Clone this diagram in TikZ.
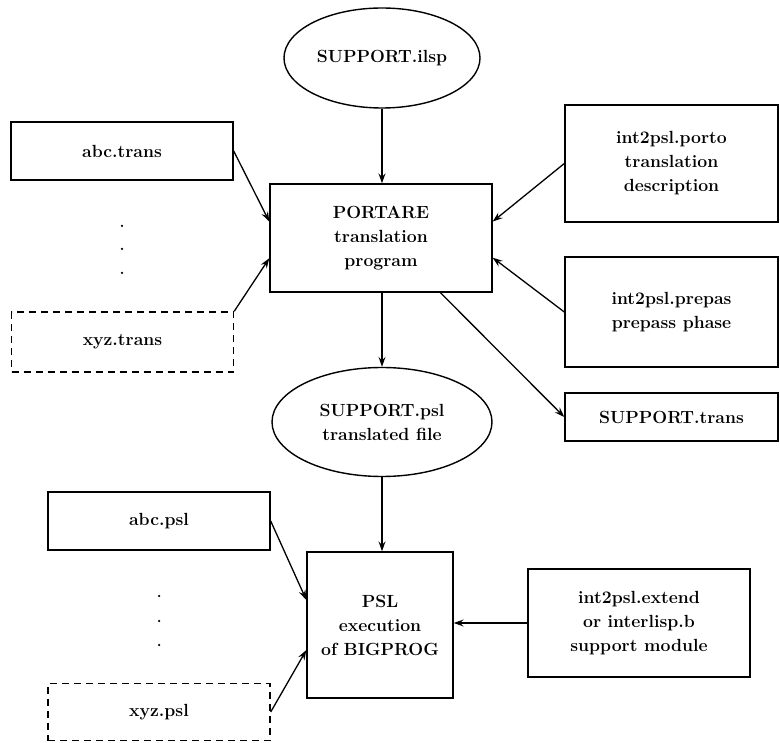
\documentclass[tikz,border=0pt]{standalone}
\usetikzlibrary{shapes.geometric,arrows.meta,calc}
\begin{document}
\begin{tikzpicture}[x=1pt,y=-1pt,
  every node/.style={font=\fontsize{17.6}{24}\selectfont\bfseries, align=center, inner sep=0pt, line width=1.4pt},
  box/.style={draw, rectangle, minimum width=#1},
  box/.default=222pt,
  dbox/.style={draw, rectangle, minimum width=222pt, dash pattern=on 7pt off 5pt},
  oval/.style={draw, ellipse},
  conn/.style={line width=1.3pt, -{Stealth[length=10pt,width=7pt,inset=3.5pt]}},
  dotn/.style={circle, fill, inner sep=0pt, minimum size=2.5pt}]
\useasboundingbox (0,0) rectangle (780,743);
% nodes
\node[oval, minimum width=196pt, minimum height=100pt] (ilsp) at (382,58) {SUPPORT.ilsp};
\node[box, minimum height=108pt] (portare) at (381,238) {PORTARE\\translation\\program};
\node[box, minimum height=58pt] (abct) at (122,151) {abc.trans};
\node[dbox, minimum height=60pt] (xyzt) at (122.5,342) {xyz.trans};
\node[dotn] (d1) at (122,226) {};
\node[dotn] (d2) at (122,249) {};
\node[dotn] (d3) at (122,273) {};
\node[box=213pt, minimum height=117pt] (porto) at (671.5,163.5) {int2psl.porto\\translation\\description};
\node[box=213pt, minimum height=110pt] (prepas) at (671.5,312) {int2psl.prepas\\prepass phase};
\node[box=213pt, minimum height=48pt] (strans) at (671.5,417) {SUPPORT.trans};
\node[oval, minimum width=220pt, minimum height=109pt] (spsl) at (382,422) {SUPPORT.psl\\translated file};
\node[box, minimum height=58pt] (abcp) at (159,521) {abc.psl};
\node[dbox, minimum height=57pt] (xyzp) at (159,712) {xyz.psl};
\node[dotn] (e1) at (159,596) {};
\node[dotn] (e2) at (159,621) {};
\node[dotn] (e3) at (159,645) {};
\node[box=146pt, minimum height=146pt] (psl) at (380,625) {PSL\\execution\\of BIGPROG};
\node[box, minimum height=108pt] (ext) at (639,623) {int2psl.extend\\or interlisp.b\\support module};
% connectors
\draw[conn] (ilsp.south) -- (ilsp.south |- portare.north);
\draw[conn] (portare.south -| spsl.north) -- (spsl.north);
\draw[conn] (spsl.south) -- (spsl.south |- psl.north);
\draw[conn] (abct.east) -- ($(portare.north west)!0.35!(portare.south west)$);
\draw[conn] (xyzt.north east) -- ($(portare.north west)!0.685!(portare.south west)$);
\draw[conn] (porto.west) -- ($(portare.north east)!0.35!(portare.south east)$);
\draw[conn] (prepas.west) -- ($(portare.north east)!0.68!(portare.south east)$);
\draw[conn] ($(portare.south west)!0.766!(portare.south east)$) -- (strans.west);
\draw[conn] (abcp.east) -- ($(psl.north west)!0.33!(psl.south west)$);
\draw[conn] (xyzp.east) -- ($(psl.north west)!0.67!(psl.south west)$);
\draw[conn] (ext.west) -- (ext.west -| psl.east);
\end{tikzpicture}
\end{document}
